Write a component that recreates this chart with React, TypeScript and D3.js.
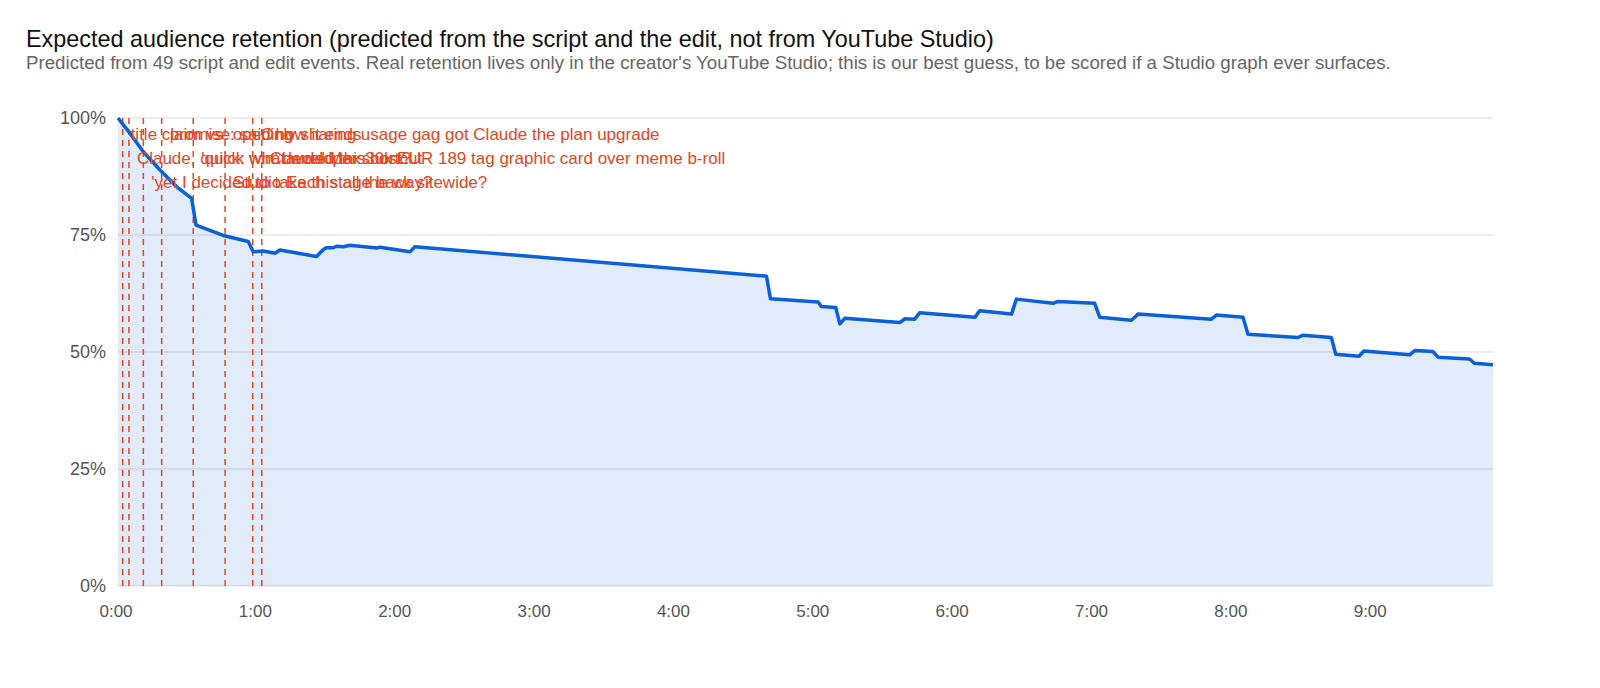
import React from "react";
import * as d3 from "d3";

const TITLE = "Expected audience retention (predicted from the script and the edit, not from YouTube Studio)";
const SUBTITLE = "Predicted from 49 script and edit events. Real retention lives only in the creator's YouTube Studio; this is our best guess, to be scored if a Studio graph ever surfaces.";

// retention curve: seconds, percent retained
const curveSeconds = [0, 5.2, 10.9, 18.1, 25.3, 31.7, 33.6, 45.3, 56.1, 58.2, 62.5, 67.6, 69.7, 85.5, 88.4, 89.8, 92.7, 94.1, 97.0, 99.9, 111.4, 112.8, 125.7, 127.8, 279.2, 280.9, 301.4, 302.9, 309.0, 310.8, 312.9, 336.6, 338.7, 343.0, 345.2, 368.9, 371.0, 384.7, 386.8, 402.6, 404.7, 420.5, 422.7, 436.3, 439.2, 470.7, 472.9, 484.4, 486.5, 508.0, 510.2, 522.4, 524.3, 534.3, 536.4, 556.1, 558.3, 566.1, 568.3, 581.9, 584.0, 592.0];
const curvePercent = [100, 96.7, 92.8, 88.9, 85.3, 82.8, 77.1, 74.9, 73.6, 71.4, 71.6, 71.1, 71.8, 70.4, 71.9, 72.3, 72.3, 72.6, 72.5, 72.8, 72.2, 72.4, 71.4, 72.5, 66.2, 61.4, 60.7, 59.7, 59.5, 56.0, 57.2, 56.3, 57.1, 57.0, 58.4, 57.4, 58.8, 58.1, 61.3, 60.4, 60.8, 60.4, 57.4, 56.8, 58.1, 57.0, 57.9, 57.4, 53.8, 53.1, 53.6, 53.1, 49.5, 49.1, 50.2, 49.4, 50.3, 50.1, 48.9, 48.5, 47.6, 47.3];

// annotated events
const eventSeconds = [2.0, 4.7, 10.9, 18.8, 32.4, 46.1, 58.0, 61.9];
const eventLabels = [
  "title claim vs. opening",
  "Claude, quick: what would this cost?",
  "'yet I decided to take this all the way?",
  "promise: said how it ends",
  "'quick win' developer shortcut",
  "Studio Each stage back sitewide?",
  "Only sharing usage gag got Claude the plan upgrade",
  "Claude Max 30k EUR 189 tag graphic card over meme b-roll",
];

const yTicks = [0, 25, 50, 75, 100];
const xTicks = [0, 60, 120, 180, 240, 300, 360, 420, 480, 540];
const xDomainEnd = 592;

const W = 1600;
const H = 688;
const M = { left: 118, right: 107, top: 118, bottom: 102 };
const FONT = "Helvetica, Arial, 'Liberation Sans', sans-serif";

export default function App() {
  const x = d3.scaleLinear().domain([0, xDomainEnd]).range([M.left, W - M.right]);
  const y = d3.scaleLinear().domain([0, 100]).range([H - M.bottom, M.top]);
  const pts = curveSeconds.map((s, i) => [s, curvePercent[i]] as [number, number]);
  const line = d3.line<[number, number]>().x((d) => x(d[0])).y((d) => y(d[1]));
  const area = d3.area<[number, number]>().x((d) => x(d[0])).y0(y(0)).y1((d) => y(d[1]));
  const fmt = (s: number) => `${Math.floor(s / 60)}:${String(Math.round(s % 60)).padStart(2, "0")}`;
  const rowY = [140, 164, 188];

  return (
    <svg width={W} height={H} style={{ position: "absolute", left: 0, top: 0, background: "#fff" }} fontFamily={FONT}>
      <text x={26} y={47} fontSize={23.4} fill="#111">{TITLE}</text>
      <text x={26} y={69} fontSize={18.7} fill="#666">{SUBTITLE}</text>

      {yTicks.map((t) => (
        <g key={t}>
          <line x1={x(0)} x2={x(xDomainEnd)} y1={y(t)} y2={y(t)} stroke="#dcdcdc" strokeWidth={1.2} />
          <text x={106} y={y(t)} dy="0.35em" textAnchor="end" fontSize={18} fill="#555">{t}%</text>
        </g>
      ))}
      {xTicks.map((t) => (
        <text key={t} x={x(t) - 2} y={617} textAnchor="middle" fontSize={17} fill="#555">{fmt(t)}</text>
      ))}

      <path d={area(pts) || ""} fill="#1967d2" fillOpacity={0.13} />

      {eventSeconds.map((s, i) => (
        <line key={i} x1={x(s)} x2={x(s)} y1={y(100)} y2={y(0)} stroke="#e8461e" strokeWidth={1.5} strokeDasharray="6 5" />
      ))}

      <path d={line(pts) || ""} fill="none" stroke="#0a60d8" strokeWidth={3.5} strokeLinejoin="round" />

      {eventSeconds.map((s, i) => (
        <text key={i} x={x(s) + 8} y={rowY[i % 3]} fontSize={17} fill="#e8461e">{eventLabels[i]}</text>
      ))}
    </svg>
  );
}
